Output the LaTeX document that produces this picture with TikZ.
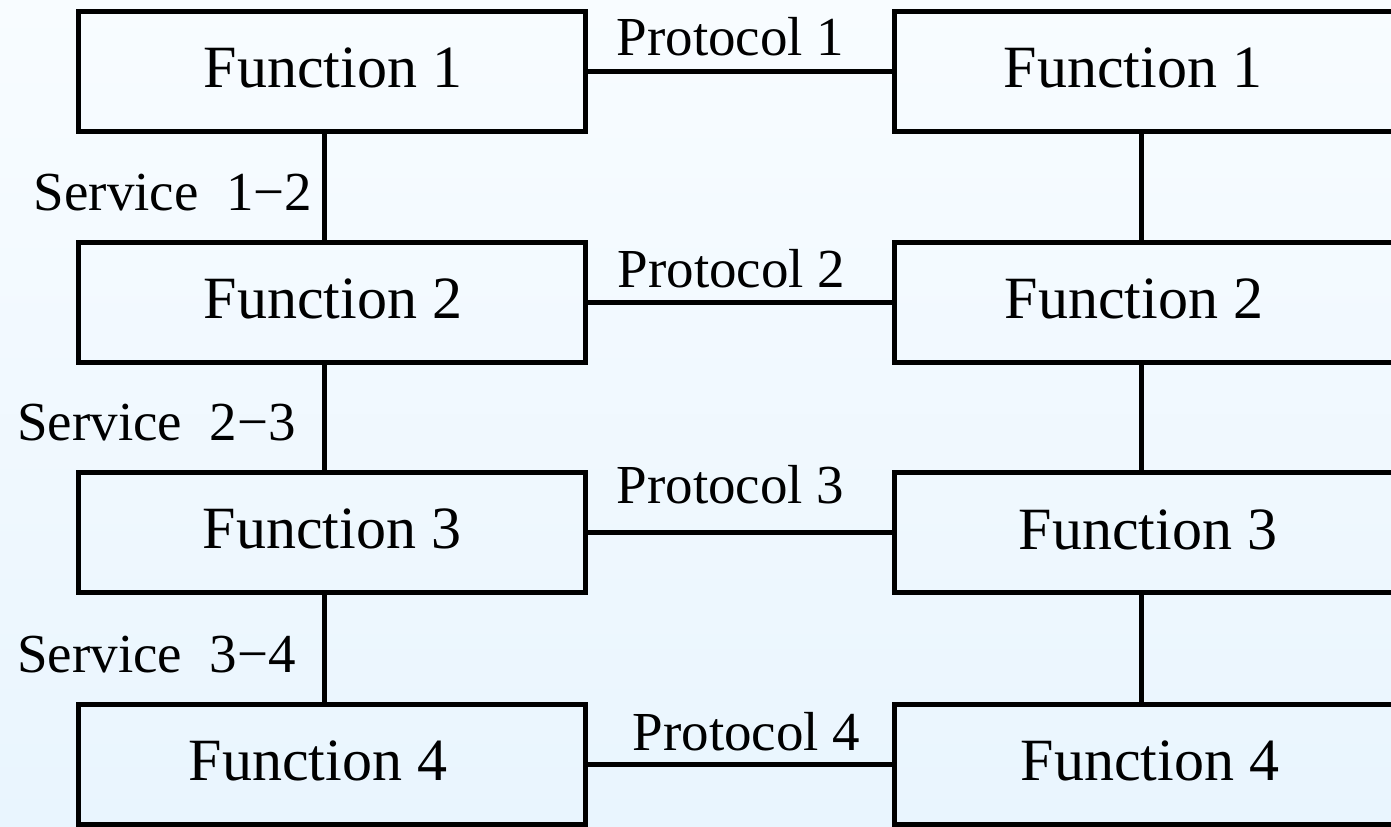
\documentclass[tikz,border=0pt]{standalone}
\usepackage{fontspec}
\setmainfont{Liberation Serif}
\definecolor{bgtop}{RGB}{248,252,255}
\definecolor{bgbot}{RGB}{233,245,254}
\begin{document}
\begin{tikzpicture}[x=0.5pt,y=-0.5pt,
  fbox/.style={draw=black, line width=2.5pt, minimum width=253.5pt, minimum height=60pt, inner sep=0pt},
  ftext/.style={anchor=base, inner sep=0pt, font=\fontsize{30}{36}\selectfont},
  ltext/.style={anchor=base, inner sep=0pt, font=\fontsize{27.5}{33}\selectfont},
  conn/.style={draw=black, line width=2.5pt}]
\useasboundingbox (0,0) rectangle (1391,826);
\clip (0,0) rectangle (1391,826);
\shade[top color=bgtop, bottom color=bgbot] (0,0) rectangle (1391,826);
% boxes
\node[fbox] (L1) at (331.5,71) {};
\node[fbox] (L2) at (331.5,302) {};
\node[fbox] (L3) at (331.5,532) {};
\node[fbox] (L4) at (331.5,764) {};
\node[fbox] (R1) at (1147.5,71) {};
\node[fbox] (R2) at (1147.5,302) {};
\node[fbox] (R3) at (1147.5,532) {};
\node[fbox] (R4) at (1147.5,764) {};
% box texts
\node[ftext] (tL1) at (333,87) {Function 1};
\node[ftext] (tL2) at (333,318) {Function 2};
\node[ftext] (tL3) at (332,548) {Function 3};
\node[ftext] (tL4) at (318,780) {Function 4};
\node[ftext] (tR1) at (1133,87) {Function 1};
\node[ftext] (tR2) at (1134,318) {Function 2};
\node[ftext] (tR3) at (1148,549) {Function 3};
\node[ftext] (tR4) at (1150,780) {Function 4};
% vertical connectors
\coordinate (vl) at (324,0);
\coordinate (vr) at (1141,0);
\draw[conn] (L1.south -| vl) -- (L2.north -| vl);
\draw[conn] (L2.south -| vl) -- (L3.north -| vl);
\draw[conn] (L3.south -| vl) -- (L4.north -| vl);
\draw[conn] (R1.south -| vr) -- (R2.north -| vr);
\draw[conn] (R2.south -| vr) -- (R3.north -| vr);
\draw[conn] (R3.south -| vr) -- (R4.north -| vr);
% horizontal connectors
\draw[conn] (L1.east) -- (R1.west);
\draw[conn] (L2.east) -- (R2.west);
\draw[conn] (L3.east) -- (R3.west);
\draw[conn] (L4.east) -- (R4.west);
% labels
\node[ltext] (p1) at (730.5,55) {Protocol 1};
\node[ltext] (p2) at (731.5,287) {Protocol 2};
\node[ltext] (p3) at (730.5,503) {Protocol 3};
\node[ltext] (p4) at (746.5,750) {Protocol 4};
\node[ltext] (s1) at (173,210) {Service~~1−2};
\node[ltext] (s2) at (156.5,440) {Service~~2−3};
\node[ltext] (s3) at (156.5,672) {Service~~3−4};
\end{tikzpicture}
\end{document}
